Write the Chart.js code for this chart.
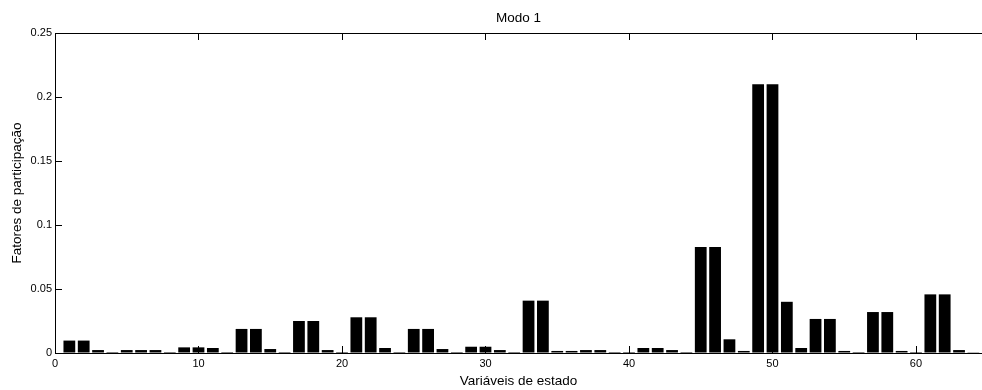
<!DOCTYPE html>
<html>
<head>
<meta charset="utf-8">
<script src="https://cdn.jsdelivr.net/npm/chart.js@4/dist/chart.umd.min.js"></script>
<style>
  html, body { margin: 0; padding: 0; background: #fff; }
  #wrap { width: 982px; height: 390px; position: relative; }
</style>
</head>
<body>
<div id="wrap"><canvas id="c" width="982" height="390"></canvas></div>
<script>
const titleText = "Modo 1";
const xLabel = "Variáveis de estado";
const yLabel = "Fatores de participação";
const stateVars = [1,2,3,4,5,6,7,8,9,10,11,12,13,14,15,16,17,18,19,20,21,22,23,24,25,26,27,28,29,30,31,32,33,34,35,36,37,38,39,40,41,42,43,44,45,46,47,48,49,50,51,52,53,54,55,56,57,58,59,60,61,62,63,64];
const factors = [
  0.0097, 0.0097, 0.0023, 0.0008, 0.0023, 0.0023, 0.0023, 0.0008,
  0.0044, 0.0044, 0.0039, 0.0008, 0.0188, 0.0188, 0.0031, 0.0008,
  0.0250, 0.0250, 0.0023, 0.0008, 0.0279, 0.0279, 0.0039, 0.0008,
  0.0188, 0.0188, 0.0031, 0.0008, 0.0049, 0.0049, 0.0023, 0.0008,
  0.0409, 0.0409, 0.0016, 0.0016, 0.0023, 0.0023, 0.0008, 0.0008,
  0.0039, 0.0039, 0.0023, 0.0008, 0.0828, 0.0828, 0.0107, 0.0016,
  0.2100, 0.2100, 0.0400, 0.0039, 0.0266, 0.0266, 0.0016, 0.0008,
  0.0320, 0.0320, 0.0016, 0.0008, 0.0458, 0.0458, 0.0023, 0.0006
];
const xTicks = [0, 10, 20, 30, 40, 50, 60];
const yTicks = [0, 0.05, 0.1, 0.15, 0.2, 0.25];
const yTickLabels = ["0", "0.05", "0.1", "0.15", "0.2", "0.25"];
const xRange = [0, 64.6];
const yRange = [0, 0.25];

const FONT = "'Liberation Sans', Arial, sans-serif";

const innerTicks = {
  id: 'innerTicks',
  afterDatasetsDraw(chart) {
    const ctx = chart.ctx;
    const a = chart.chartArea;
    const xs = chart.scales.x, ys = chart.scales.y;
    ctx.save();
    ctx.strokeStyle = '#000';
    ctx.lineWidth = 1;
    const L = 7;
    ctx.beginPath();
    xTicks.forEach(v => {
      const px = Math.round(xs.getPixelForValue(v)) + 0.5;
      ctx.moveTo(px, a.bottom); ctx.lineTo(px, a.bottom - L);
      ctx.moveTo(px, a.top); ctx.lineTo(px, a.top + L);
    });
    yTicks.forEach(v => {
      const py = Math.round(ys.getPixelForValue(v)) + 0.5;
      ctx.moveTo(a.left, py); ctx.lineTo(a.left + L, py);
    });
    ctx.stroke();
    ctx.restore();
  }
};

new Chart(document.getElementById('c'), {
  type: 'bar',
  data: {
    datasets: [{
      data: stateVars.map((x, i) => ({ x: x, y: factors[i] })),
      backgroundColor: '#000',
      borderColor: '#444',
      borderWidth: 0,
      barPercentage: 0.82,
      categoryPercentage: 1.0
    }]
  },
  options: {
    responsive: false,
    animation: false,
    devicePixelRatio: 1,
    layout: { padding: { left: 0, right: 0, top: 0, bottom: 0 } },
    plugins: {
      legend: { display: false },
      tooltip: { enabled: false },
      title: { display: false }
    },
    scales: {
      x: {
        type: 'linear',
        offset: false,
        min: xRange[0], max: xRange[1],
        afterBuildTicks: s => { s.ticks = xTicks.map(v => ({ value: v })); },
        afterFit: s => { s.height = 37; },
        grid: { display: true, offset: false, color: 'rgba(0,0,0,0)', drawTicks: false, drawOnChartArea: false },
        border: { display: true, color: '#000', width: 1 },
        ticks: {
          color: '#000', padding: 4, maxRotation: 0, autoSkip: false,
          font: { family: FONT, size: 11 },
          callback: v => String(v)
        },
        title: {
          display: true, text: xLabel, color: '#000',
          font: { family: FONT, size: 13.5, lineHeight: 1.2 },
          padding: { top: 1, bottom: 1 }
        }
      },
      xTop: {
        type: 'linear',
        position: 'top',
        offset: false,
        min: xRange[0], max: xRange[1],
        afterBuildTicks: s => { s.ticks = xTicks.map(v => ({ value: v })); },
        afterFit: s => { s.height = 33; },
        grid: { display: true, offset: false, color: 'rgba(0,0,0,0)', drawTicks: false, drawOnChartArea: false },
        border: { display: true, color: '#000', width: 1 },
        ticks: { display: false },
        title: {
          display: true, text: titleText, color: '#000',
          font: { family: FONT, size: 13.5, lineHeight: 1.2 },
          padding: { top: 10.4, bottom: 0 }
        }
      },
      y: {
        type: 'linear',
        min: yRange[0], max: yRange[1],
        afterBuildTicks: s => { s.ticks = yTicks.map(v => ({ value: v })); },
        afterFit: s => { s.width = 55; },
        grid: { display: true, color: 'rgba(0,0,0,0)', drawTicks: false, drawOnChartArea: false },
        border: { display: true, color: '#000', width: 1 },
        ticks: {
          color: '#000', padding: 3,
          font: { family: FONT, size: 11 },
          callback: (v, i) => yTickLabels[i]
        },
        title: {
          display: true, text: yLabel, color: '#000',
          font: { family: FONT, size: 13.5, lineHeight: 1.2 },
          padding: { top: 9.4, bottom: 4 }
        }
      }
    }
  },
  plugins: [innerTicks]
});
</script>
</body>
</html>
